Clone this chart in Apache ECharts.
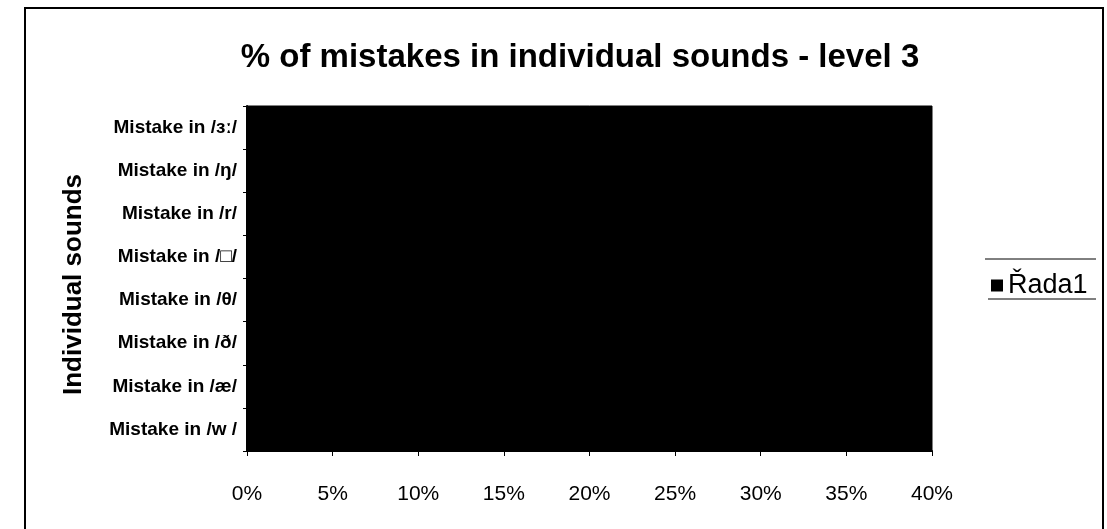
<!DOCTYPE html>
<html>
<head>
<meta charset="utf-8">
<script src="https://cdn.jsdelivr.net/npm/echarts@6/dist/echarts.min.js"></script>
<style>html,body{margin:0;padding:0;background:#fff}#c{width:1107px;height:529px}</style>
</head>
<body>
<div id="c"></div>
<script>
// categories listed bottom-to-top (as in the original Excel bar chart)
var categories = ['Mistake in /w /', 'Mistake in /æ/', 'Mistake in /ð/', 'Mistake in /θ/', 'Mistake in /\u25A1/', 'Mistake in /r/', 'Mistake in /ŋ/', 'Mistake in /ɜː/'];
// values are not legible in the scan (bars are black on a black plot area); estimated
var values = [0.36, 0.33, 0.39, 0.37, 0.34, 0.30, 0.35, 0.38];
var xTicks = [0, 0.05, 0.10, 0.15, 0.20, 0.25, 0.30, 0.35, 0.40];
var seriesName = 'Řada1';
var titleText = '% of mistakes in individual sounds - level 3';
var yAxisName = 'Individual sounds';

var FONT = 'Liberation Sans, Arial, sans-serif';
var chart = echarts.init(document.getElementById('c'), null, {renderer: 'canvas'});
chart.setOption({
  animation: false,
  backgroundColor: '#fff',
  title: {
    text: titleText,
    left: 575, top: 36, textAlign: 'center',
    textStyle: {fontFamily: FONT, fontWeight: 'bold', fontSize: 33, color: '#000'}
  },
  legend: {
    show: true,
    data: [seriesName],
    left: 986, top: 267,
    icon: 'rect', itemWidth: 12, itemHeight: 12, itemGap: 4,
    textStyle: {fontFamily: FONT, fontSize: 27, color: '#000', padding: [0, 0, 0, 0]}
  },
  grid: {
    left: 247, right: 175, top: 106, bottom: 78,
    show: true, backgroundColor: '#000', borderColor: '#000', borderWidth: 1,
    containLabel: false
  },
  xAxis: {
    type: 'value', min: 0, max: 0.40, interval: 0.05,
    axisLine: {show: true, lineStyle: {color: '#000', width: 2}},
    axisTick: {show: true, length: 5, lineStyle: {color: '#000'}},
    splitLine: {show: false},
    axisLabel: {
      margin: 33, color: '#000', fontSize: 21, fontFamily: FONT,
      formatter: function (v) { return Math.round(v * 100) + '%'; }
    }
  },
  yAxis: {
    type: 'category', data: categories,
    name: yAxisName, nameLocation: 'middle', nameGap: 160, nameRotate: 90,
    nameTextStyle: {fontFamily: FONT, fontWeight: 'bold', fontSize: 26, color: '#000', padding: [0, 12, 0, 0]},
    axisLine: {show: true, lineStyle: {color: '#000', width: 2}},
    axisTick: {show: true, length: 4, lineStyle: {color: '#000'}},
    axisLabel: {margin: 10, color: '#000', fontSize: 19, fontWeight: 'bold', fontFamily: FONT}
  },
  series: [{
    name: seriesName, type: 'bar', data: values,
    barWidth: '60%',
    itemStyle: {color: '#000'}
  }],
  graphic: [
    {type: 'rect', shape: {x: 25, y: 8, width: 1078, height: 560}, style: {fill: 'none', stroke: '#000', lineWidth: 2}, silent: true},
    {type: 'line', shape: {x1: 985, y1: 259, x2: 1096, y2: 259}, style: {stroke: '#000', lineWidth: 1}, silent: true},
    {type: 'line', shape: {x1: 988, y1: 299, x2: 1096, y2: 299}, style: {stroke: '#000', lineWidth: 1}, silent: true}
  ]
});
</script>
</body>
</html>
